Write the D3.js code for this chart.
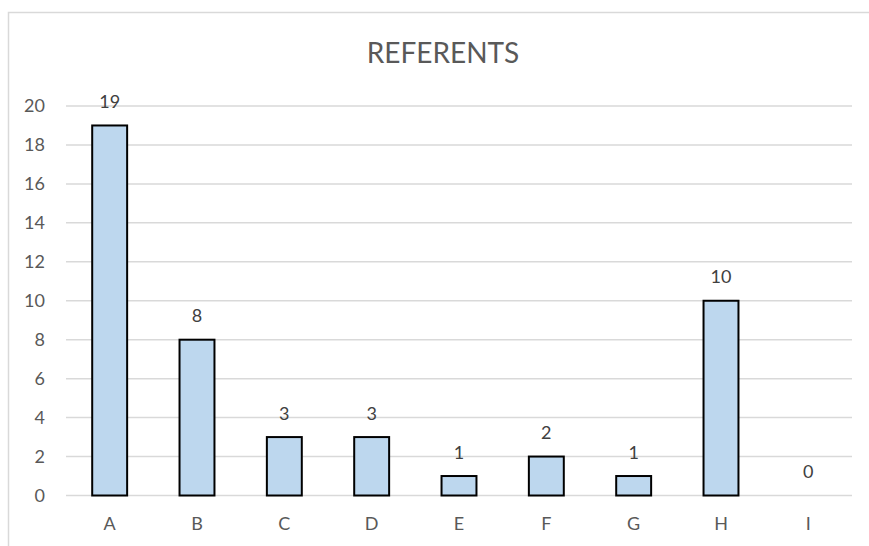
<!DOCTYPE html>
<html>
<head>
<meta charset="utf-8">
<script src="https://cdn.jsdelivr.net/npm/d3@7"></script>
<style>
  html, body { margin: 0; padding: 0; background: #fff; }
  svg { display: block; }
  text { font-family: Lato, "Open Sans", sans-serif; }
</style>
</head>
<body>
<svg id="chart" width="869" height="546"></svg>
<script>
// Data
const categories = ["A", "B", "C", "D", "E", "F", "G", "H", "I"];
const values = [19, 8, 3, 3, 1, 2, 1, 10, 0];
const yTicks = [0, 2, 4, 6, 8, 10, 12, 14, 16, 18, 20];
const title = "REFERENTS";

const svg = d3.select("#chart");
const W = 869, H = 546;
const plot = { left: 66, right: 852, top: 106, bottom: 495.5 };
const labelFont = "18px";

// Chart frame
svg.append("rect")
  .attr("x", 8.5).attr("y", 12.5)
  .attr("width", W + 20).attr("height", H + 20)
  .attr("fill", "#fff")
  .attr("stroke", "#d9d9d9")
  .attr("stroke-width", 1.5);

const x = d3.scaleBand()
  .domain(categories)
  .range([plot.left, plot.right])
  .paddingInner(0.6)
  .paddingOuter(0.3);

const y = d3.scaleLinear()
  .domain([0, 20])
  .range([plot.bottom, plot.top]);

// Gridlines
svg.append("g")
  .selectAll("line")
  .data(yTicks)
  .join("line")
  .attr("x1", plot.left).attr("x2", plot.right)
  .attr("y1", d => y(d)).attr("y2", d => y(d))
  .attr("stroke", "#d9d9d9")
  .attr("stroke-width", 1.5);

// Y axis labels
const yAxis = d3.axisLeft(y).tickValues(yTicks).tickSize(0).tickPadding(0);
const gy = svg.append("g").attr("transform", "translate(45,0)").call(yAxis);
gy.select(".domain").remove();
gy.selectAll("text")
  .attr("fill", "#595959")
  .style("font-size", labelFont)
  .style("font-family", "Lato, 'Open Sans', sans-serif");

// X axis labels
const xAxis = d3.axisBottom(x).tickSize(0).tickPadding(0);
const gx = svg.append("g").attr("transform", `translate(0,${plot.bottom + 22})`).call(xAxis);
gx.select(".domain").remove();
gx.selectAll("text")
  .attr("fill", "#595959")
  .style("font-size", labelFont)
  .style("font-family", "Lato, 'Open Sans', sans-serif");

// Bars
svg.append("g")
  .selectAll("rect")
  .data(values.map((v, i) => ({ c: categories[i], v })).filter(d => d.v > 0))
  .join("rect")
  .attr("x", d => x(d.c))
  .attr("y", d => y(d.v))
  .attr("width", x.bandwidth())
  .attr("height", d => y(0) - y(d.v))
  .attr("fill", "#bdd7ee")
  .attr("stroke", "#000")
  .attr("stroke-width", 2);

// Value labels
svg.append("g")
  .selectAll("text")
  .data(values.map((v, i) => ({ c: categories[i], v })))
  .join("text")
  .attr("x", d => x(d.c) + x.bandwidth() / 2)
  .attr("y", d => y(d.v) - 17.5)
  .attr("text-anchor", "middle")
  .attr("fill", "#404040")
  .style("font-size", labelFont)
  .text(d => d.v);

// Title
svg.append("text")
  .attr("x", 443)
  .attr("y", 63)
  .attr("text-anchor", "middle")
  .attr("fill", "#595959")
  .style("font-size", "28px")
  .text(title);
</script>
</body>
</html>
